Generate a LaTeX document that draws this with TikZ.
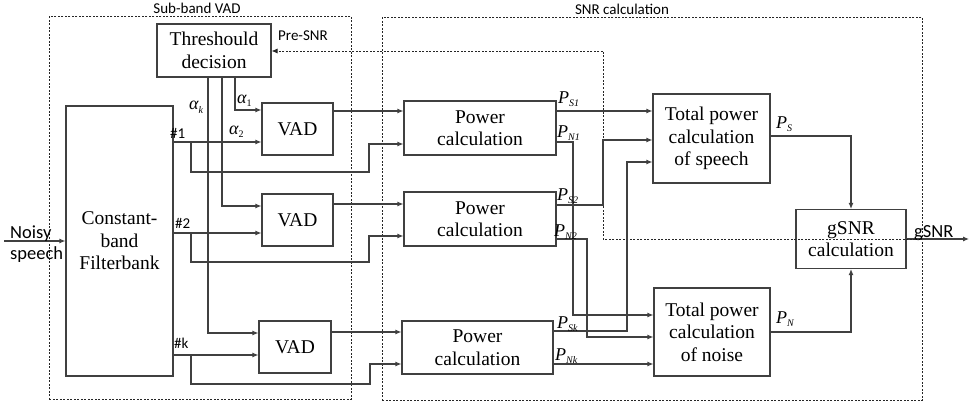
\documentclass[tikz,border=0pt]{standalone}
\usepackage{fontspec}
\setmainfont{Liberation Serif}
\newfontfamily\boxfont{Liberation Serif}
\newfontfamily\labfont{Carlito}
\usetikzlibrary{arrows.meta}
\newcommand\Plab[1]{{\boxfont\fontsize{18}{18}\selectfont\itshape P}\raisebox{-3pt}{\boxfont\fontsize{10}{10}\selectfont\itshape #1}}
\newcommand\Alab[1]{{\boxfont\fontsize{18}{18}\selectfont\itshape α}\raisebox{-3pt}{\boxfont\fontsize{10}{10}\selectfont #1}}
\begin{document}
\begin{tikzpicture}[x=1pt,y=-1pt,
  box/.style={draw=black!75, line width=1.1pt, align=center, inner sep=0pt, font=\boxfont\fontsize{19.5}{22.5}\selectfont},
  ln/.style={draw=black!75, line width=1.1pt},
  arr/.style={ln, -{Latex[length=6pt,width=5pt]}},
  grp/.style={draw=black!85, line width=0.8pt, dash pattern=on 2pt off 1.5pt},
  sanslab/.style={inner sep=0pt, font=\labfont\fontsize{15}{15}\selectfont},
  biglab/.style={inner sep=0pt, font=\labfont\fontsize{18.5}{18.5}\selectfont},
  mlab/.style={inner sep=0pt, anchor=base west}
]
\useasboundingbox (0,0) rectangle (969,404);

% group frames
\node[grp, minimum width=302pt, minimum height=383pt, anchor=north west] (gvad) at (49,16) {};
\node[grp, minimum width=540pt, minimum height=383pt, anchor=north west] (gsnr) at (382,17) {};
\node[sanslab] (tvad) at (197,8) {Sub-band VAD};
\node[sanslab] (tsnr) at (622,9) {SNR calculation};

% boxes
\node[box, minimum width=114pt, minimum height=53pt] (thr) at (214,50.5) {Threshould\\decision};
\node[box, minimum width=107pt, minimum height=270pt] (fb) at (119.5,241) {Constant-\\band\\Filterbank};
\node[box, minimum width=71pt, minimum height=52pt] (vad1) at (297.5,129) {VAD};
\node[box, minimum width=71pt, minimum height=52pt] (vad2) at (297.5,220) {VAD};
\node[box, minimum width=72pt, minimum height=52pt] (vad3) at (295,347) {VAD};
\node[box, minimum width=152pt, minimum height=54pt] (pc1) at (480,128) {Power\\calculation};
\node[box, minimum width=152pt, minimum height=54pt] (pc2) at (480,219) {Power\\calculation};
\node[box, minimum width=151pt, minimum height=53pt] (pc3) at (477.5,347.5) {Power\\calculation};
\node[box, minimum width=117pt, minimum height=89pt] (ts) at (711.5,138.5) {Total power\\calculation\\of speech};
\node[box, minimum width=116pt, minimum height=88pt] (tn) at (712,332) {Total power\\calculation\\of noise};
\node[box, minimum width=110pt, minimum height=59pt] (gs) at (851,239) {gSNR\\calculation};

% free ends
\coordinate (in) at (4,241);
\coordinate (out) at (969,239);
\coordinate (tap) at (922,239);
\coordinate (b1) at (191,142);
\coordinate (b2) at (191,233);
\coordinate (bk) at (191,355);

% input / output
\draw[arr] (in) -- (fb.west);
\node[biglab, anchor=base west] (ns1) at (10,238) {Noisy};
\node[biglab, anchor=base west] (ns2) at (10,259) {speech};
\draw[arr] (gs.east) -- (out);
\node[biglab, anchor=base west] (gout) at (914,237) {gSNR};

% feedback
\draw[grp, -{Latex[length=6pt,width=5pt]}] (tap) -- (603,239) -- (603,51) -- (thr.east |- 0,51);
\node[sanslab] (pre) at (303,36) {Pre-SNR};

% filterbank outputs
\draw[arr] (fb.east |- 0,142) -- (vad1.west |- 0,142);
\draw[arr] (b1) -- (191,172) -- (369,172) -- (369,144) -- (pc1.west |- 0,144);
\draw[arr] (fb.east |- 0,233) -- (vad2.west |- 0,233);
\draw[arr] (b2) -- (191,262) -- (369,262) -- (369,236) -- (pc2.west |- 0,236);
\draw[arr] (fb.east |- 0,355) -- (vad3.west |- 0,355);
\draw[arr] (bk) -- (191,384) -- (370,384) -- (370,364) -- (pc3.west |- 0,364);
\node[sanslab, anchor=base west] (h1) at (170,138) {\#1};
\node[sanslab, anchor=base west] (h2) at (175,228) {\#2};
\node[sanslab, anchor=base west] (hk) at (174,348) {\#k};

% thresholds
\draw[arr] (thr.south -| 235,0) -- (235,110) -- (vad1.west |- 0,110);
\draw[arr] (thr.south -| 222,0) -- (222,206) -- (vad2.west |- 0,206);
\draw[arr] (thr.south -| 208,0) -- (208,333) -- (vad3.west |- 0,333);
\node[mlab] (a1) at (237,103) {\Alab{1}};
\node[mlab] (a2) at (229,134) {\Alab{2}};
\node[mlab] (ak) at (189,110) {\Alab{\itshape k}};

% VAD outputs
\draw[arr] (vad1.east |- 0,111) -- (pc1.west |- 0,111);
\draw[arr] (vad2.east |- 0,204) -- (pc2.west |- 0,204);
\draw[arr] (vad3.east |- 0,332) -- (pc3.west |- 0,332);

% power outputs
\draw[arr] (pc1.east |- 0,111) -- (ts.west |- 0,111);
\draw[arr] (pc1.east |- 0,142) -- (573,142) -- (573,315) -- (tn.west |- 0,315);
\draw[arr] (pc2.east |- 0,205) -- (603,205) -- (603,140) -- (ts.west |- 0,140);
\draw[arr] (pc2.east |- 0,239) -- (587,239) -- (587,337) -- (tn.west |- 0,337);
\draw[arr] (pc3.east |- 0,331) -- (627,331) -- (627,162) -- (ts.west |- 0,162);
\draw[arr] (pc3.east |- 0,364) -- (tn.west |- 0,364);
\node[mlab] (ps1) at (558,103) {\Plab{S1}};
\node[mlab] (pn1) at (557,137) {\Plab{N1}};
\node[mlab] (ps2) at (557,200) {\Plab{S2}};
\node[mlab] (pn2) at (554,236) {\Plab{N2}};
\node[mlab] (psk) at (557,328) {\Plab{Sk}};
\node[mlab] (pnk) at (555,360) {\Plab{Nk}};

% totals
\draw[arr] (ts.east |- 0,136) -- (851,136) -- (gs.north);
\draw[arr] (tn.east |- 0,332) -- (851,332) -- (gs.south);
\node[mlab] (pst) at (776,128) {\Plab{S}};
\node[mlab] (pnt) at (776,323) {\Plab{N}};
\end{tikzpicture}
\end{document}
